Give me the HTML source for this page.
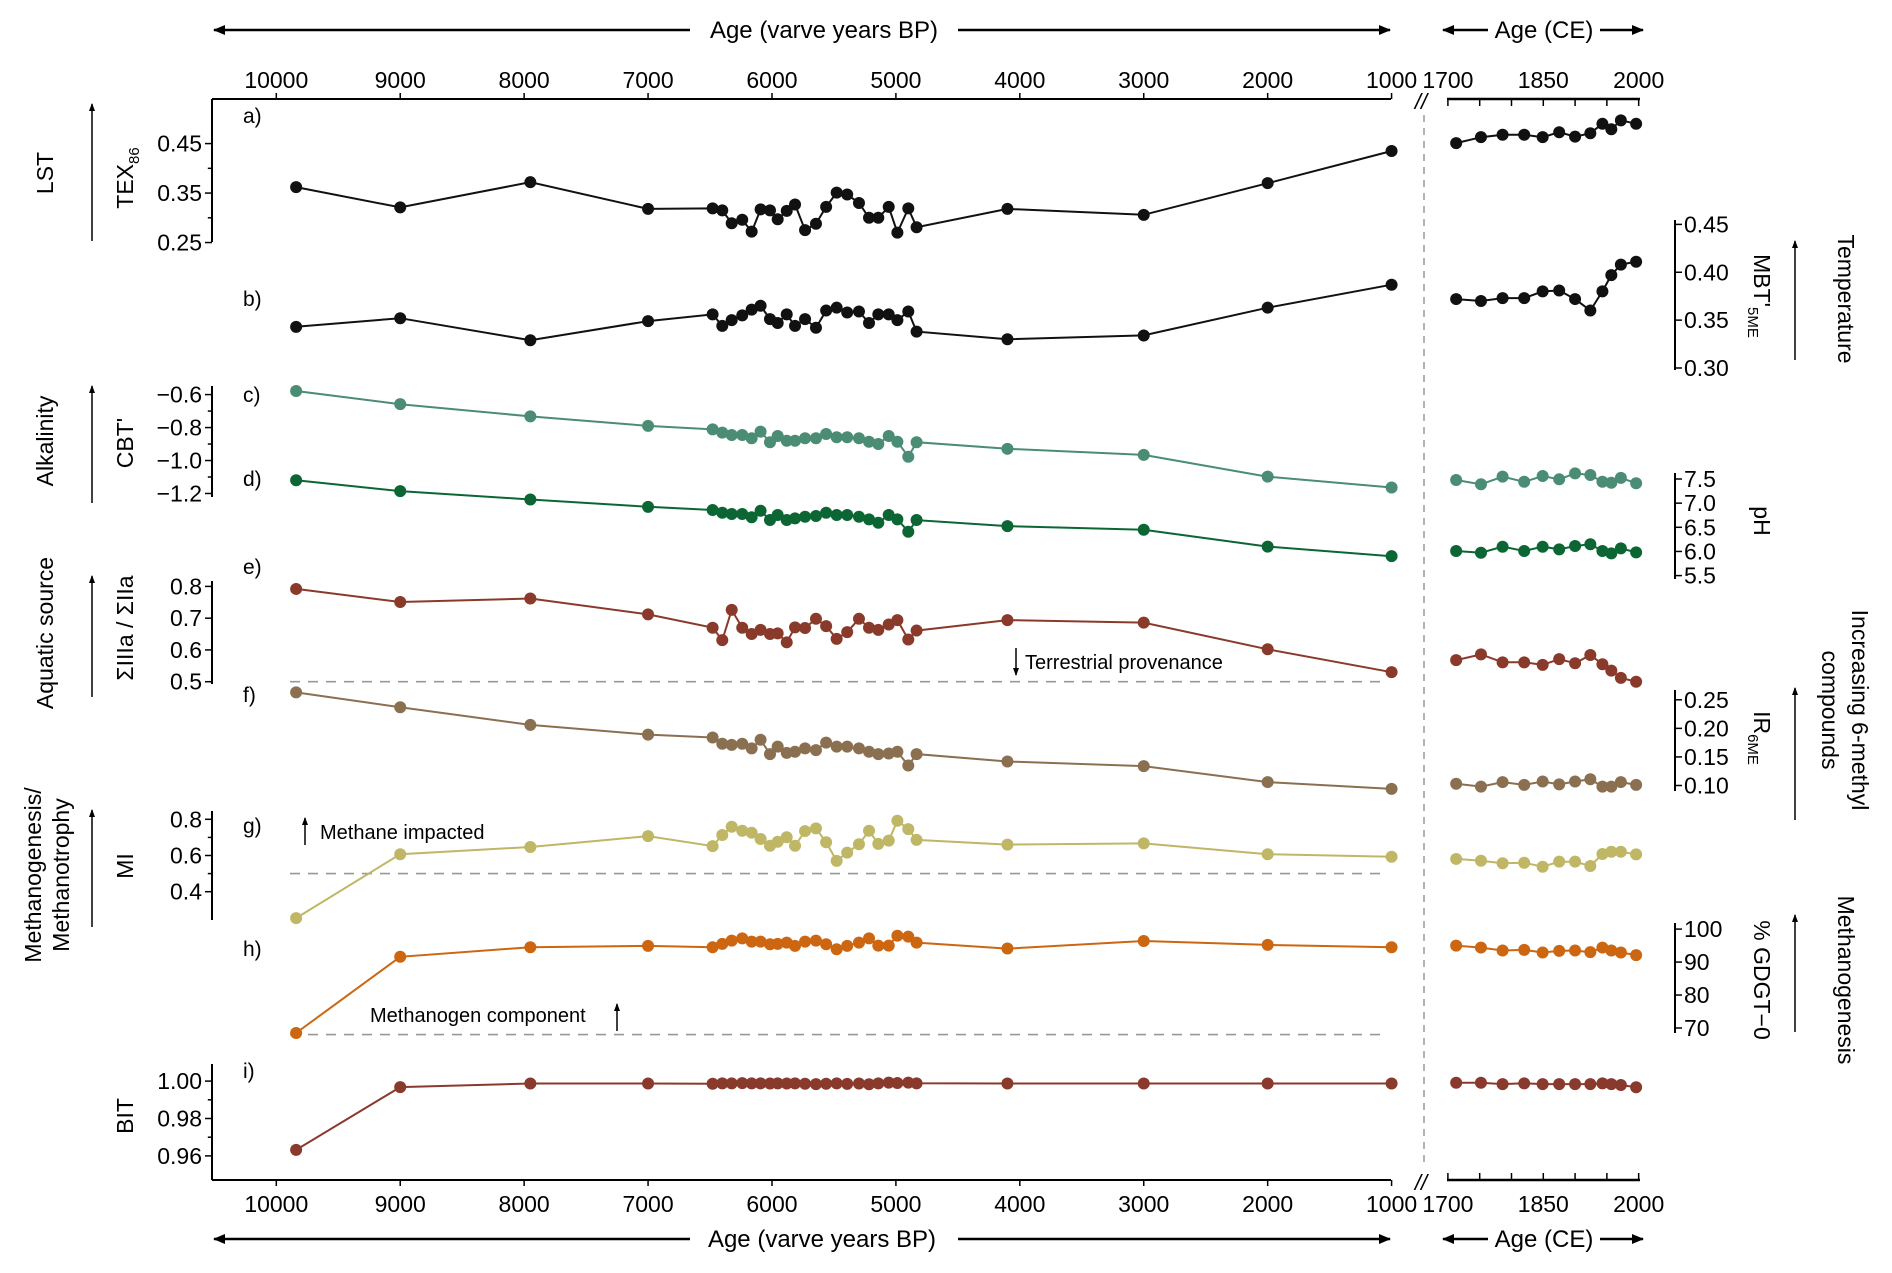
<!DOCTYPE html>
<html><head><meta charset="utf-8"><style>
html,body{margin:0;padding:0;background:#fff}
svg{display:block;font-family:"Liberation Sans",Arial,sans-serif}
</style></head><body>
<svg id="chart" width="1892" height="1273" viewBox="0 0 1892 1273" xmlns="http://www.w3.org/2000/svg">
<defs>
<marker id="ah" markerWidth="12" markerHeight="12" refX="11" refY="6" orient="auto" markerUnits="userSpaceOnUse"><path d="M0,1 L12,6 L0,11 Z" fill="#000"/></marker>
<marker id="ahs" markerWidth="8" markerHeight="8" refX="7" refY="4" orient="auto" markerUnits="userSpaceOnUse"><path d="M0,1 L8,4 L0,7 Z" fill="#000"/></marker>
</defs>
<g id="static" font-size="23" fill="#000">
  <g>
    <line x1="690" y1="30" x2="214" y2="30" stroke="#000" stroke-width="2.5" marker-end="url(#ah)"/>
    <line x1="958" y1="30" x2="1390" y2="30" stroke="#000" stroke-width="2.5" marker-end="url(#ah)"/>
    <text x="824" y="38" text-anchor="middle" font-size="24">Age (varve years BP)</text>
  </g>
  <g>
    <line x1="1488" y1="30" x2="1443" y2="30" stroke="#000" stroke-width="2.5" marker-end="url(#ah)"/>
    <line x1="1600" y1="30" x2="1643" y2="30" stroke="#000" stroke-width="2.5" marker-end="url(#ah)"/>
    <text x="1544" y="38" text-anchor="middle" font-size="24">Age (CE)</text>
  </g>
  <g>
    <line x1="690" y1="1239" x2="214" y2="1239" stroke="#000" stroke-width="2.5" marker-end="url(#ah)"/>
    <line x1="958" y1="1239" x2="1390" y2="1239" stroke="#000" stroke-width="2.5" marker-end="url(#ah)"/>
    <text x="822" y="1247" text-anchor="middle" font-size="24">Age (varve years BP)</text>
  </g>
  <g>
    <line x1="1488" y1="1239" x2="1443" y2="1239" stroke="#000" stroke-width="2.5" marker-end="url(#ah)"/>
    <line x1="1600" y1="1239" x2="1643" y2="1239" stroke="#000" stroke-width="2.5" marker-end="url(#ah)"/>
    <text x="1544" y="1247" text-anchor="middle" font-size="24">Age (CE)</text>
  </g>
  <text x="1421" y="109" text-anchor="middle" font-size="22" font-style="italic">//</text>
  <text x="1421" y="1190" text-anchor="middle" font-size="22" font-style="italic">//</text>
  <line x1="1424" y1="115" x2="1424" y2="1165" stroke="#999" stroke-width="1.5" stroke-dasharray="7,6"/>
  <g font-size="21">
    <text x="243" y="123">a)</text><text x="243" y="306">b)</text><text x="243" y="402">c)</text>
    <text x="243" y="486">d)</text><text x="243" y="574">e)</text><text x="243" y="702">f)</text>
    <text x="243" y="833">g)</text><text x="243" y="956">h)</text><text x="243" y="1078">i)</text>
  </g>
  <g font-size="23">
    <text transform="translate(53,173) rotate(-90)" text-anchor="middle">LST</text>
    <text transform="translate(53,441) rotate(-90)" text-anchor="middle">Alkalinity</text>
    <text transform="translate(53,633) rotate(-90)" text-anchor="middle">Aquatic source</text>
    <text transform="translate(41,875) rotate(-90)" text-anchor="middle">Methanogenesis/</text>
    <text transform="translate(69,875) rotate(-90)" text-anchor="middle">Methanotrophy</text>
    <line x1="92" y1="241" x2="92" y2="104" stroke="#000" stroke-width="1.5" marker-end="url(#ahs)"/>
    <line x1="92" y1="503" x2="92" y2="386" stroke="#000" stroke-width="1.5" marker-end="url(#ahs)"/>
    <line x1="92" y1="697" x2="92" y2="576" stroke="#000" stroke-width="1.5" marker-end="url(#ahs)"/>
    <line x1="92" y1="927" x2="92" y2="810" stroke="#000" stroke-width="1.5" marker-end="url(#ahs)"/>
  </g>
  <g font-size="23">
    <text transform="translate(133,178) rotate(-90)" text-anchor="middle">TEX<tspan font-size="15" dy="6">86</tspan></text>
    <text transform="translate(133,443) rotate(-90)" text-anchor="middle">CBT'</text>
    <text transform="translate(133,628) rotate(-90)" text-anchor="middle">ΣIIIa / ΣIIa</text>
    <text transform="translate(133,866) rotate(-90)" text-anchor="middle">MI</text>
    <text transform="translate(133,1116) rotate(-90)" text-anchor="middle">BIT</text>
  </g>
  <g font-size="23">
    <text transform="translate(1754,296) rotate(90)" text-anchor="middle">MBT'<tspan font-size="15" dy="6">5ME</tspan></text>
    <text transform="translate(1754,521) rotate(90)" text-anchor="middle">pH</text>
    <text transform="translate(1754,738) rotate(90)" text-anchor="middle">IR<tspan font-size="15" dy="6">6ME</tspan></text>
    <text transform="translate(1754,980) rotate(90)" text-anchor="middle">% GDGT−0</text>
    <text transform="translate(1838,299) rotate(90)" text-anchor="middle">Temperature</text>
    <text transform="translate(1852,710) rotate(90)" text-anchor="middle">Increasing 6-methyl</text>
    <text transform="translate(1822,710) rotate(90)" text-anchor="middle">compounds</text>
    <text transform="translate(1838,980) rotate(90)" text-anchor="middle">Methanogenesis</text>
    <line x1="1795" y1="360" x2="1795" y2="241" stroke="#000" stroke-width="1.5" marker-end="url(#ahs)"/>
    <line x1="1795" y1="820" x2="1795" y2="688" stroke="#000" stroke-width="1.5" marker-end="url(#ahs)"/>
    <line x1="1795" y1="1032" x2="1795" y2="915" stroke="#000" stroke-width="1.5" marker-end="url(#ahs)"/>
  </g>
  <g font-size="20">
    <g>
      <line x1="1016" y1="648" x2="1016" y2="675" stroke="#000" stroke-width="1.5" marker-end="url(#ahs)"/>
      <text x="1025" y="669">Terrestrial provenance</text>
    </g>
    <g>
      <line x1="305" y1="845" x2="305" y2="818" stroke="#000" stroke-width="1.5" marker-end="url(#ahs)"/>
      <text x="320" y="839">Methane impacted</text>
    </g>
    <g>
      <text x="370" y="1022">Methanogen component</text>
      <line x1="617" y1="1031" x2="617" y2="1004" stroke="#000" stroke-width="1.5" marker-end="url(#ahs)"/>
    </g>
  </g>
</g>
<g id="dyn"></g>
</svg>
<script>
const ageCore = [9840,9000,7950,7000,6479,6401,6325,6240,6164,6092,6016,5954,5881,5814,5733,5645,5563,5478,5393,5298,5217,5142,5058,4988,4900,4833,4100,3000,2000,1000];
const texVals = [0.362,0.321,0.372,0.318,0.319,0.315,0.289,0.296,0.272,0.317,0.315,0.297,0.314,0.327,0.275,0.288,0.322,0.351,0.347,0.330,0.300,0.300,0.322,0.270,0.319,0.281,0.318,0.306,0.370,0.435];
const mbtVals = [0.343,0.352,0.329,0.349,0.356,0.344,0.350,0.355,0.361,0.365,0.351,0.347,0.356,0.344,0.351,0.342,0.360,0.363,0.358,0.359,0.347,0.356,0.356,0.350,0.359,0.338,0.330,0.334,0.363,0.387];
const cbtVals = [-0.578,-0.658,-0.732,-0.790,-0.811,-0.831,-0.845,-0.845,-0.865,-0.825,-0.889,-0.851,-0.880,-0.880,-0.865,-0.865,-0.839,-0.859,-0.859,-0.865,-0.886,-0.900,-0.851,-0.886,-0.977,-0.889,-0.929,-0.966,-1.098,-1.164];
const phVals = [7.475,7.250,7.076,6.924,6.858,6.802,6.775,6.775,6.707,6.843,6.650,6.754,6.650,6.685,6.718,6.733,6.802,6.754,6.754,6.718,6.665,6.594,6.754,6.665,6.409,6.650,6.525,6.450,6.100,5.902];
const iiiVals = [0.792,0.751,0.762,0.712,0.670,0.631,0.726,0.670,0.650,0.663,0.650,0.652,0.624,0.671,0.669,0.698,0.675,0.635,0.656,0.698,0.670,0.663,0.680,0.694,0.633,0.661,0.694,0.686,0.602,0.530];
const irVals = [0.263,0.237,0.206,0.189,0.184,0.173,0.171,0.173,0.165,0.180,0.155,0.168,0.157,0.159,0.165,0.162,0.175,0.168,0.168,0.165,0.159,0.155,0.156,0.159,0.135,0.155,0.142,0.134,0.106,0.094];
const miVals = [0.254,0.607,0.647,0.707,0.652,0.713,0.759,0.737,0.726,0.691,0.654,0.676,0.701,0.654,0.735,0.750,0.673,0.570,0.616,0.662,0.737,0.664,0.682,0.792,0.746,0.686,0.660,0.667,0.607,0.593];
const gdgtVals = [68.5,91.6,94.5,94.9,94.5,95.5,96.5,97.2,96.2,96.2,95.4,95.5,95.9,94.9,96.2,96.5,95.4,93.9,94.9,95.9,97.2,95.0,95.0,98.0,97.7,95.9,94.1,96.4,95.2,94.5];
const bitVals = [0.9632,0.9968,0.9987,0.9987,0.9986,0.9988,0.9988,0.9989,0.9988,0.9988,0.9987,0.9988,0.9987,0.9988,0.9986,0.9984,0.9986,0.9988,0.9985,0.9987,0.9983,0.9988,0.9992,0.9990,0.9992,0.9988,0.9987,0.9987,0.9987,0.9987];

const yrsRecent = [1713,1752,1786,1820,1849,1875,1900,1924,1943,1957,1972,1996];
const texRecent = [0.451,0.463,0.468,0.468,0.463,0.473,0.464,0.471,0.490,0.479,0.497,0.490];
const mbtRecent = [0.372,0.370,0.373,0.373,0.380,0.381,0.372,0.360,0.380,0.397,0.408,0.411];
const cbtRecent = [-1.118,-1.144,-1.098,-1.129,-1.094,-1.114,-1.078,-1.088,-1.129,-1.135,-1.105,-1.138];
const phRecent = [6.009,5.974,6.098,6.009,6.098,6.044,6.113,6.148,6.009,5.961,6.064,5.981];
const iiiRecent = [0.568,0.586,0.561,0.561,0.553,0.571,0.558,0.584,0.555,0.535,0.512,0.500];
const irRecent = [0.103,0.098,0.106,0.101,0.107,0.102,0.107,0.111,0.098,0.098,0.106,0.101];
const miRecent = [0.581,0.571,0.557,0.560,0.538,0.566,0.566,0.542,0.608,0.621,0.621,0.606];
const gdgtRecent = [95.0,94.4,93.5,93.7,92.9,93.4,93.5,93.0,94.4,93.5,92.9,92.1];
const bitRecent = [0.9991,0.9991,0.9984,0.9988,0.9984,0.9984,0.9984,0.9984,0.9988,0.9984,0.9979,0.9967];

const ageTicks = [10000,9000,8000,7000,6000,5000,4000,3000,2000,1000];
const yrTicks = [1700,1750,1800,1850,1900,1950,2000];
const yrTickLabels = [1700,1850,2000];
const texTicks = [0.25,0.35,0.45];
const cbtTicks = [-0.6,-0.8,-1.0,-1.2];
const iiiTicks = [0.5,0.6,0.7,0.8];
const miTicks = [0.4,0.6,0.8];
const bitTicks = [0.96,0.98,1.00];
const mbtTicks = [0.30,0.35,0.40,0.45];
const phTicks = [5.5,6.0,6.5,7.0,7.5];
const irTicks = [0.10,0.15,0.20,0.25];
const gdgtTicks = [70,80,90,100];

const xAge = a => 276.3 + (10000 - a) * 0.12392;
const xYr = y => 1447.9 + (y - 1700) * 0.6359;
const yTex = v => 143.6 + (0.45 - v) * 494.7;
const yMbt = v => 224.4 + (0.45 - v) * 957.3;
const yCbt = v => 394.6 + (-0.6 - v) * 164.8;
const yPh = v => 479 + (7.5 - v) * 48.3;
const yIii = v => 586.4 + (0.8 - v) * 317.7;
const yIr = v => 699.8 + (0.25 - v) * 571.3;
const yMi = v => 819.3 + (0.8 - v) * 181;
const yGdgt = v => 929.1 + (100 - v) * 3.297;
const yBit = v => 1081.1 + (1 - v) * 1870;

const NS = 'http://www.w3.org/2000/svg';
const g = document.getElementById('dyn');
function mk(tag, attrs, parent) {
  const e = document.createElementNS(NS, tag);
  for (const k in attrs) e.setAttribute(k, attrs[k]);
  (parent || g).appendChild(e);
  return e;
}
function txt(s, x, y, anchor, parent) {
  const t = mk('text', {x: x, y: y, 'text-anchor': anchor, 'font-size': 23}, parent);
  t.textContent = s;
  return t;
}

const axTop = mk('g', {});


mk('line', {x1: 212, y1: 99, x2: 1391, y2: 99, stroke: '#000', 'stroke-width': 2}, axTop);
mk('line', {x1: 1447, y1: 99, x2: 1640, y2: 99, stroke: '#000', 'stroke-width': 2.5}, axTop);
const axBot = mk('g', {});


mk('line', {x1: 212, y1: 1180, x2: 1391, y2: 1180, stroke: '#000', 'stroke-width': 2}, axBot);
mk('line', {x1: 1447, y1: 1180, x2: 1640, y2: 1180, stroke: '#000', 'stroke-width': 2.5}, axBot);
ageTicks.forEach(a => {
  const x = xAge(a);
  mk('line', {x1: x, y1: 99, x2: x, y2: 93, stroke: '#000', 'stroke-width': 1.5}, axTop);
  const t1 = txt(String(a), x, 88, 'middle', axTop);
  
  
  mk('line', {x1: x, y1: 1180, x2: x, y2: 1186, stroke: '#000', 'stroke-width': 1.5}, axBot);
  const t2 = txt(String(a), x, 1212, 'middle', axBot);
  
  
});
yrTicks.forEach(y => {
  const x = xYr(y);
  mk('line', {x1: x, y1: 99, x2: x, y2: 106, stroke: '#000', 'stroke-width': 1.5}, axTop);
  mk('line', {x1: x, y1: 1180, x2: x, y2: 1173, stroke: '#000', 'stroke-width': 1.5}, axBot);
});
yrTickLabels.forEach(y => {
  const x = xYr(y);
  const t1 = txt(String(y), x, 88, 'middle', axTop);
  
  
  const t2 = txt(String(y), x, 1212, 'middle', axBot);
  
  
});

function yAxis(name, side, ys, y0, y1, ticks, fmt, minorStep) {
  const ax = mk('g', {});
  
  
  const X = side === 'left' ? 212 : 1675;
  const d = side === 'left' ? -7 : 7;
  mk('line', {x1: X, y1: y0, x2: X, y2: y1, stroke: '#000', 'stroke-width': 2}, ax);
  ticks.forEach(v => {
    const y = ys(v);
    mk('line', {x1: X, y1: y, x2: X + d, y2: y, stroke: '#000', 'stroke-width': 1.5}, ax);
    const t = txt(fmt(v), side === 'left' ? X - 10 : X + 9, y + 8, side === 'left' ? 'end' : 'start', ax);
    
    
  });
  if (minorStep) {
    for (let i = 0; i < ticks.length - 1; i++) {
      const y = ys((ticks[i] + ticks[i + 1]) / 2);
      mk('line', {x1: X, y1: y, x2: X + d * 0.6, y2: y, stroke: '#000', 'stroke-width': 1.5}, ax);
    }
  }
}
const f2 = v => v.toFixed(2);
const f1 = v => (v < 0 ? '\u2212' + Math.abs(v).toFixed(1) : v.toFixed(1));
yAxis('tex86-axis', 'left', yTex, 99, 242, texTicks, f2, true);
yAxis('cbt-axis', 'left', yCbt, 386, 497, cbtTicks, f1, true);
yAxis('iiia-iia-axis', 'left', yIii, 581, 684, iiiTicks, f1, false);
yAxis('mi-axis', 'left', yMi, 811, 920, miTicks, f1, true);
yAxis('bit-axis', 'left', yBit, 1064, 1180, bitTicks, f2, true);
yAxis('mbt-axis', 'right', yMbt, 220, 370, mbtTicks, f2, false);
yAxis('ph-axis', 'right', yPh, 473, 579, phTicks, v => v.toFixed(1), false);
yAxis('ir6me-axis', 'right', yIr, 690, 791, irTicks, f2, false);
yAxis('gdgt0-axis', 'right', yGdgt, 923, 1033, gdgtTicks, v => String(v), false);

function hdash(name, y) {
  const l = mk('line', {x1: 290, y1: y, x2: 1388, y2: y, stroke: '#999', 'stroke-width': 1.6, 'stroke-dasharray': '10,8'});
  
  
}
hdash('terrestrial-threshold-line', yIii(0.5));
hdash('methane-impacted-threshold-line', yMi(0.5));
hdash('methanogen-threshold-line', yGdgt(68));

function series(name, xs, xsc, vals, ysc, color) {
  const s = mk('g', {});
  
  
  const pts = xs.map((a, i) => xsc(a).toFixed(1) + ',' + ysc(vals[i]).toFixed(1)).join(' ');
  mk('polyline', {points: pts, fill: 'none', stroke: color, 'stroke-width': 2}, s);
  xs.forEach((a, i) => {
    const c = mk('circle', {cx: xsc(a), cy: ysc(vals[i]), r: 6, fill: color}, s);
    
    
  });
}
const C = {k: '#111111', teal: '#4a8c74', green: '#0b6634', brick: '#8a3a2a', brown: '#8a7050', olive: '#bfb766', orange: '#cc6611', brick2: '#8a3a2c'};
series('tex86-series', ageCore, xAge, texVals, yTex, C.k);
series('tex86-recent-series', yrsRecent, xYr, texRecent, yTex, C.k);
series('mbt-series', ageCore, xAge, mbtVals, yMbt, C.k);
series('mbt-recent-series', yrsRecent, xYr, mbtRecent, yMbt, C.k);
series('cbt-series', ageCore, xAge, cbtVals, yCbt, C.teal);
series('cbt-recent-series', yrsRecent, xYr, cbtRecent, yCbt, C.teal);
series('ph-series', ageCore, xAge, phVals, yPh, C.green);
series('ph-recent-series', yrsRecent, xYr, phRecent, yPh, C.green);
series('iiia-iia-series', ageCore, xAge, iiiVals, yIii, C.brick);
series('iiia-iia-recent-series', yrsRecent, xYr, iiiRecent, yIii, C.brick);
series('ir6me-series', ageCore, xAge, irVals, yIr, C.brown);
series('ir6me-recent-series', yrsRecent, xYr, irRecent, yIr, C.brown);
series('mi-series', ageCore, xAge, miVals, yMi, C.olive);
series('mi-recent-series', yrsRecent, xYr, miRecent, yMi, C.olive);
series('gdgt0-series', ageCore, xAge, gdgtVals, yGdgt, C.orange);
series('gdgt0-recent-series', yrsRecent, xYr, gdgtRecent, yGdgt, C.orange);
series('bit-series', ageCore, xAge, bitVals, yBit, C.brick2);
series('bit-recent-series', yrsRecent, xYr, bitRecent, yBit, C.brick2);
</script>
</body></html>
